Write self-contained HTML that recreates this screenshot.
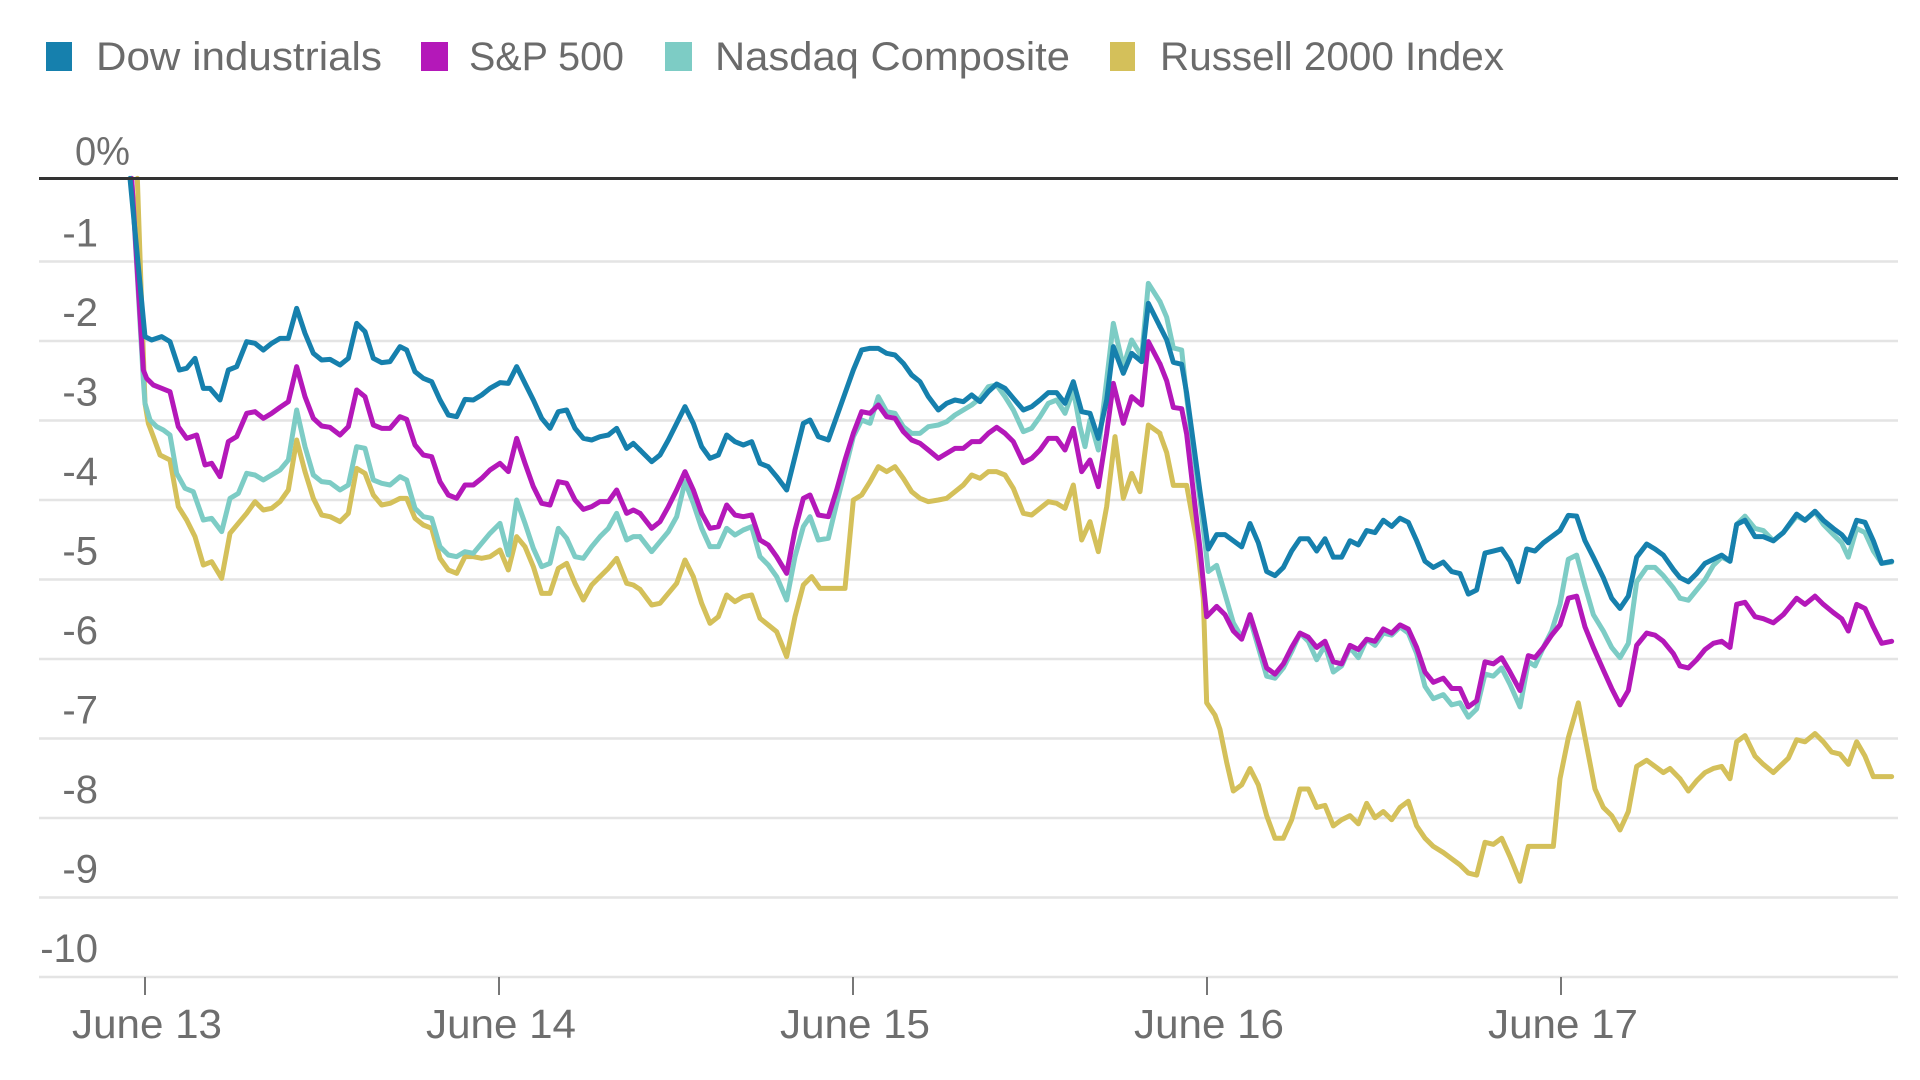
<!DOCTYPE html>
<html>
<head>
<meta charset="utf-8">
<style>
html,body{margin:0;padding:0;background:#fff;}
svg{display:block;}
text{font-family:"Liberation Sans",Arial,sans-serif;}
</style>
</head>
<body>
<svg width="1920" height="1080" viewBox="0 0 1920 1080" xmlns="http://www.w3.org/2000/svg">
<rect width="1920" height="1080" fill="#fff"/>

<!-- Legend -->
<rect x="46" y="42" width="26" height="29" fill="#1680ad"/>
<text x="96" y="70" font-size="40" fill="#6b6b6b" textLength="286" lengthAdjust="spacingAndGlyphs">Dow industrials</text>
<rect x="421" y="42" width="27" height="29" fill="#b418b9"/>
<text x="469" y="70" font-size="40" fill="#6b6b6b" textLength="155" lengthAdjust="spacingAndGlyphs">S&amp;P 500</text>
<rect x="665" y="42" width="27" height="29" fill="#7dccc5"/>
<text x="715" y="70" font-size="40" fill="#6b6b6b" textLength="355" lengthAdjust="spacingAndGlyphs">Nasdaq Composite</text>
<rect x="1110" y="42" width="25" height="29" fill="#d4c05a"/>
<text x="1160" y="70" font-size="40" fill="#6b6b6b" textLength="344" lengthAdjust="spacingAndGlyphs">Russell 2000 Index</text>

<!-- Gridlines -->
<g stroke="#e4e4e4" stroke-width="2.5">
<line x1="39" x2="1898" y1="261.5" y2="261.5"/>
<line x1="39" x2="1898" y1="341" y2="341"/>
<line x1="39" x2="1898" y1="420.5" y2="420.5"/>
<line x1="39" x2="1898" y1="500" y2="500"/>
<line x1="39" x2="1898" y1="579.5" y2="579.5"/>
<line x1="39" x2="1898" y1="659" y2="659"/>
<line x1="39" x2="1898" y1="738.5" y2="738.5"/>
<line x1="39" x2="1898" y1="818" y2="818"/>
<line x1="39" x2="1898" y1="897.5" y2="897.5"/>
<line x1="39" x2="1898" y1="977" y2="977"/>
</g>

<!-- Y labels -->
<g font-size="40" fill="#6e6e6e">
<text x="75" y="165" textLength="55" lengthAdjust="spacingAndGlyphs">0%</text>
<g text-anchor="end">
<text x="98" y="246.5">-1</text>
<text x="98" y="326">-2</text>
<text x="98" y="405.5">-3</text>
<text x="98" y="485">-4</text>
<text x="98" y="564.5">-5</text>
<text x="98" y="644">-6</text>
<text x="98" y="723.5">-7</text>
<text x="98" y="803">-8</text>
<text x="98" y="882.5">-9</text>
<text x="98" y="962">-10</text>
</g>
</g>

<!-- X ticks and labels -->
<g stroke="#777" stroke-width="2">
<line x1="145" x2="145" y1="977" y2="995"/>
<line x1="499" x2="499" y1="977" y2="995"/>
<line x1="853" x2="853" y1="977" y2="995"/>
<line x1="1207" x2="1207" y1="977" y2="995"/>
<line x1="1561" x2="1561" y1="977" y2="995"/>
</g>
<g font-size="41" fill="#6e6e6e" text-anchor="middle">
<text x="147" y="1038" textLength="150" lengthAdjust="spacingAndGlyphs">June 13</text>
<text x="501" y="1038" textLength="150" lengthAdjust="spacingAndGlyphs">June 14</text>
<text x="855" y="1038" textLength="150" lengthAdjust="spacingAndGlyphs">June 15</text>
<text x="1209" y="1038" textLength="150" lengthAdjust="spacingAndGlyphs">June 16</text>
<text x="1563" y="1038" textLength="150" lengthAdjust="spacingAndGlyphs">June 17</text>
</g>

<!-- Series -->
<g fill="none" stroke-width="5" stroke-linejoin="round" stroke-linecap="round">

<!-- Russell -->
<g stroke="#d4c05a">
<path vector-effect="non-scaling-stroke" transform="translate(120,170) scale(0.3333333)" d="M52,25 L75,700 85,760 100,800 120,855 150,870 175,1010 200,1050 225,1100 250,1185 275,1175 305,1225 330,1090 355,1060 380,1030 405,995 430,1020 455,1015 480,995 505,960 530,810 555,905 580,985 605,1035 630,1040 660,1055 685,1030 710,895 735,910 760,975 785,1005 810,1000 840,985 860,985 885,1045 910,1065 935,1075 960,1165 985,1200 1010,1210 1035,1160 1060,1160 1085,1165 1110,1160 1140,1140 1165,1200 1190,1100 1215,1130 1240,1190 1265,1270 1290,1270 1315,1195 1340,1180 1365,1240 1390,1290 1415,1245 1440,1220 1465,1195 1490,1165 1520,1240 1540,1245 1560,1258"/>
<path vector-effect="non-scaling-stroke" transform="translate(640,170) scale(0.3333333)" d="M0,1258 L35,1305 60,1300 85,1270 110,1240 135,1170 160,1220 185,1300 210,1360 235,1340 260,1275 285,1295 310,1280 335,1275 360,1345 385,1365 410,1385 440,1460 465,1340 490,1245 515,1220 540,1255 565,1255 590,1255 615,1255 640,990 665,975 690,935 715,890 740,905 765,890 790,925 815,965 840,985 865,995 895,990 920,985 945,965 970,945 995,915 1020,925 1045,905 1070,905 1095,915 1120,955 1150,1030 1175,1035 1200,1015 1225,995 1250,1000 1275,1015 1300,945 1325,1110 1350,1055 1375,1145 1400,1010 1425,800 1450,985 1475,910 1500,965 1525,765 1560,790"/>
<path vector-effect="non-scaling-stroke" transform="translate(1160,270) scale(0.3333333,0.4102564)" d="M0,400 L20,445 40,525 65,525 80,525 110,660 130,800 140,1055 165,1085 180,1120 200,1200 220,1270 245,1255 270,1215 295,1255 320,1330 345,1385 370,1385 395,1340 420,1265 445,1265 470,1310 495,1305 520,1355 545,1340 570,1330 595,1350 620,1300 645,1335 670,1320 695,1340 720,1310 745,1295 770,1355 795,1385 820,1405 850,1420 875,1435 900,1450 925,1470 950,1475 975,1395 1000,1400 1025,1385 1050,1430 1080,1490 1105,1405 1125,1405 1150,1405 1180,1405 1200,1240 1225,1140 1255,1055 1280,1160 1305,1265 1330,1310 1355,1330 1380,1365 1405,1320 1430,1210 1460,1195 1485,1210 1510,1225 1530,1215 1560,1240"/>
<path vector-effect="non-scaling-stroke" transform="translate(1660,270) scale(0.3333333,0.4102564)" d="M60,1240 L85,1270 110,1245 135,1225 160,1215 185,1210 210,1240 230,1150 255,1135 285,1185 310,1205 340,1225 385,1190 410,1145 435,1150 465,1130 490,1150 515,1175 540,1180 565,1205 590,1150 615,1185 640,1235 665,1235 695,1235"/>
</g>

<!-- Nasdaq -->
<g stroke="#7dccc5">
<path vector-effect="non-scaling-stroke" transform="translate(120,170) scale(0.3333333)" d="M35,25 L70,630 75,700 90,750 110,770 130,780 150,795 170,910 195,955 220,965 250,1050 275,1045 305,1085 330,985 355,970 380,910 405,915 430,930 455,915 480,900 505,870 530,720 555,830 580,915 605,935 630,938 660,960 685,945 710,830 735,835 760,930 785,940 810,945 840,920 860,930 885,1015 910,1040 935,1045 960,1130 985,1155 1010,1160 1035,1145 1060,1150 1085,1120 1110,1090 1140,1060 1165,1155 1190,990 1215,1060 1240,1135 1265,1190 1290,1180 1315,1075 1340,1105 1365,1160 1390,1165 1415,1130 1440,1100 1465,1075 1490,1030 1520,1110 1540,1100 1560,1100"/>
<path vector-effect="non-scaling-stroke" transform="translate(640,170) scale(0.3333333)" d="M0,1100 L35,1145 60,1115 85,1085 110,1040 135,935 160,1000 185,1075 210,1130 235,1130 260,1075 285,1095 310,1080 335,1070 360,1160 385,1185 410,1220 440,1290 465,1160 490,1070 510,1040 535,1110 565,1105 590,1000 615,900 640,800 665,750 690,760 715,680 740,725 765,730 790,770 815,790 840,790 865,770 895,765 920,755 945,735 970,720 995,705 1020,685 1045,650 1070,645 1095,680 1120,720 1150,785 1175,775 1200,740 1225,700 1250,690 1275,730 1300,660 1320,770 1335,830 1350,750 1375,840 1400,630 1420,460 1450,590 1475,510 1505,560 1525,340 1560,395"/>
<path vector-effect="non-scaling-stroke" transform="translate(1160,270) scale(0.3333333,0.4102564)" d="M0,77 L20,115 40,190 65,195 80,310 100,440 120,560 145,735 170,720 195,790 220,860 245,895 270,850 295,920 320,990 345,995 370,970 395,930 420,885 445,905 470,950 495,915 520,980 545,965 570,920 595,945 620,900 645,915 670,885 695,890 720,870 745,885 770,935 795,1015 820,1045 850,1035 875,1060 900,1055 925,1090 950,1070 975,985 1000,990 1025,970 1050,1010 1080,1065 1105,955 1125,965 1150,920 1175,880 1200,815 1225,705 1250,695 1275,770 1300,840 1330,880 1355,920 1380,945 1405,910 1430,760 1460,725 1485,725 1510,745 1540,775 1560,800"/>
<path vector-effect="non-scaling-stroke" transform="translate(1660,270) scale(0.3333333,0.4102564)" d="M60,800 L85,805 110,780 135,755 160,720 185,700 210,710 230,620 255,600 285,630 310,635 340,660 370,640 410,600 435,610 465,590 490,620 520,645 545,665 565,700 590,630 615,640 640,685 665,715 695,712"/>
</g>

<!-- S&P 500 -->
<g stroke="#b418b9">
<path vector-effect="non-scaling-stroke" transform="translate(120,170) scale(0.3333333)" d="M35,25 L70,600 80,625 100,645 125,655 150,665 175,770 200,805 230,795 255,885 275,880 300,920 325,815 350,800 380,730 405,725 430,745 455,730 480,712 505,695 530,590 555,680 580,745 605,768 630,772 660,795 685,770 710,660 735,680 760,765 785,775 810,775 840,740 860,748 885,825 910,855 935,860 960,935 985,975 1010,985 1035,945 1060,945 1085,925 1110,900 1140,880 1165,905 1190,805 1215,880 1240,950 1265,1000 1290,1005 1315,935 1340,940 1365,990 1390,1018 1415,1010 1440,995 1465,995 1490,960 1520,1030 1540,1020 1560,1030"/>
<path vector-effect="non-scaling-stroke" transform="translate(640,170) scale(0.3333333)" d="M0,1030 L35,1075 60,1055 85,1010 110,960 135,905 160,960 185,1030 210,1075 235,1070 260,1005 285,1035 310,1040 335,1035 360,1110 385,1125 410,1160 440,1210 465,1080 490,985 510,975 535,1035 565,1040 590,960 615,870 640,790 665,725 690,730 715,705 740,740 765,745 790,785 815,810 840,820 865,840 895,865 920,850 945,835 970,835 995,815 1020,815 1045,790 1070,772 1095,790 1120,815 1150,878 1175,865 1200,840 1225,805 1250,805 1275,840 1300,775 1325,905 1350,870 1375,950 1400,790 1420,640 1450,760 1475,680 1505,705 1525,515 1560,582"/>
<path vector-effect="non-scaling-stroke" transform="translate(1160,270) scale(0.3333333,0.4102564)" d="M0,229 L20,270 40,335 65,338 80,400 100,540 120,680 140,845 170,820 195,840 220,880 245,900 270,840 295,905 320,970 345,985 370,960 395,920 420,885 445,895 470,920 495,905 520,955 545,960 570,915 595,925 620,900 645,905 670,875 695,885 720,865 745,875 770,920 795,980 820,1005 850,995 875,1020 900,1020 925,1065 950,1050 975,955 1000,960 1025,945 1050,980 1080,1025 1105,940 1125,945 1150,920 1175,890 1200,865 1225,800 1250,795 1275,870 1300,920 1330,975 1355,1020 1380,1060 1405,1025 1430,915 1460,885 1485,890 1510,905 1540,935 1560,965"/>
<path vector-effect="non-scaling-stroke" transform="translate(1660,270) scale(0.3333333,0.4102564)" d="M60,965 L85,970 110,950 135,925 160,910 185,905 210,920 230,815 255,810 285,845 310,850 340,860 370,840 410,800 435,815 465,795 490,815 520,835 545,850 565,880 590,815 615,825 640,870 665,910 695,905"/>
</g>

<!-- Dow -->
<g stroke="#1680ad">
<path vector-effect="non-scaling-stroke" transform="translate(120,170) scale(0.3333333)" d="M30,25 L75,500 95,510 125,500 150,515 178,600 200,595 225,565 250,655 270,655 300,690 325,600 350,590 380,515 405,520 430,540 455,520 480,505 505,505 530,415 555,490 580,550 605,570 630,568 660,585 685,565 710,460 735,485 760,565 785,578 810,575 840,530 860,540 885,605 910,625 935,635 960,690 985,735 1010,740 1035,688 1060,690 1085,675 1110,655 1140,638 1165,640 1190,590 1215,640 1240,690 1265,745 1290,775 1315,725 1340,720 1365,775 1390,805 1415,810 1440,800 1465,795 1490,775 1520,835 1540,820 1560,840"/>
<path vector-effect="non-scaling-stroke" transform="translate(640,170) scale(0.3333333)" d="M0,840 L35,875 60,855 85,810 110,760 135,710 160,760 185,830 210,865 235,855 260,795 285,815 310,825 335,815 360,880 385,890 410,920 440,960 465,860 490,760 510,750 535,800 565,810 590,740 615,670 640,600 665,540 690,535 715,535 740,550 765,555 790,580 815,615 840,635 865,680 895,720 920,700 945,690 970,695 995,675 1020,695 1045,665 1070,642 1095,655 1120,685 1150,720 1175,710 1200,690 1225,668 1250,668 1275,700 1300,635 1325,725 1350,730 1375,805 1400,690 1420,530 1450,610 1475,550 1505,575 1525,400 1560,470"/>
<path vector-effect="non-scaling-stroke" transform="translate(1160,270) scale(0.3333333,0.4102564)" d="M0,138 L20,170 40,225 65,230 80,300 100,420 120,540 145,680 170,645 195,645 220,660 245,675 270,618 295,665 320,735 345,745 370,725 395,685 420,655 445,655 470,685 495,655 520,700 545,700 570,660 595,670 620,635 645,640 670,610 695,625 720,605 745,615 770,660 795,710 820,725 850,712 875,735 900,740 925,790 950,780 975,690 1000,685 1025,680 1050,710 1075,760 1100,680 1125,685 1150,665 1175,650 1200,635 1225,598 1250,600 1275,660 1300,700 1330,750 1355,800 1380,825 1405,795 1430,700 1460,668 1485,680 1510,695 1540,730 1560,750"/>
<path vector-effect="non-scaling-stroke" transform="translate(1660,270) scale(0.3333333,0.4102564)" d="M60,750 L85,760 110,740 135,715 160,705 185,695 210,710 230,620 255,610 285,650 310,650 340,660 370,640 410,595 435,610 465,588 490,610 520,630 545,645 565,665 590,610 615,615 640,660 665,715 695,710"/>
</g>
</g>

<!-- Zero line -->
<line x1="39" x2="1898" y1="178.5" y2="178.5" stroke="#333" stroke-width="3"/>
</svg>
</body>
</html>
